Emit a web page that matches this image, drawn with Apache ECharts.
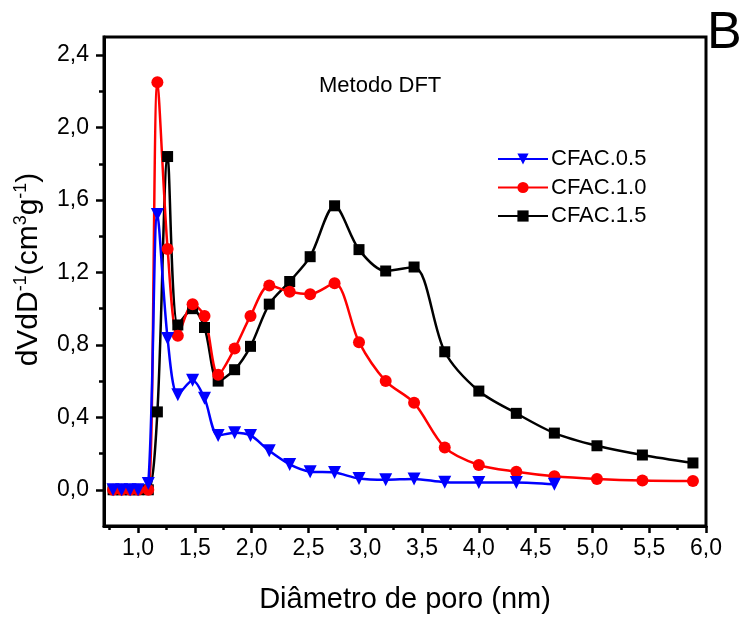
<!DOCTYPE html>
<html>
<head>
<meta charset="utf-8">
<script src="https://cdn.jsdelivr.net/npm/echarts@6/dist/echarts.min.js"></script>
<style>
  html, body { margin: 0; padding: 0; background: #fff; }
  #chart { width: 746px; height: 619px; }
</style>
</head>
<body>
<div id="chart"></div>
<script>
// pore diameter (nm)
const diameters = [0.78, 0.855, 0.93, 1.0, 1.09, 1.17, 1.26, 1.35, 1.48, 1.585, 1.705, 1.85, 1.99,
  2.155, 2.335, 2.515, 2.73, 2.945, 3.18, 3.43, 3.70, 4.00, 4.33, 4.665, 5.04, 5.44, 5.885];

const cfac05 = [0, 0, 0, 0, 0.035, 1.52, 0.835, 0.525, 0.605, 0.505, 0.30, 0.315, 0.30,
  0.215, 0.14, 0.10, 0.095, 0.062, 0.055, 0.06, 0.042, 0.04, 0.04, 0.03];
const cfac10 = [0, 0, 0, 0, 0, 2.25, 1.33, 0.85, 1.025, 0.96, 0.635, 0.78, 0.96,
  1.128, 1.093, 1.08, 1.14, 0.815, 0.60, 0.48, 0.234, 0.137, 0.10, 0.075, 0.06, 0.051, 0.048];
const cfac15 = [0, 0, 0, 0, 0, 0.43, 1.84, 0.91, 1.0, 0.896, 0.60, 0.663, 0.792,
  1.025, 1.15, 1.287, 1.568, 1.326, 1.208, 1.23, 0.762, 0.545, 0.422, 0.313, 0.243, 0.192, 0.148];

const xMajor = [1.0, 1.5, 2.0, 2.5, 3.0, 3.5, 4.0, 4.5, 5.0, 5.5, 6.0];
const xMinor = [0.75, 1.25, 1.75, 2.25, 2.75, 3.25, 3.75, 4.25, 4.75, 5.25, 5.75];
const yMajor = [0, 0.4, 0.8, 1.2, 1.6, 2.0, 2.4];
const yMinor = [0.2, 0.6, 1.0, 1.4, 1.8, 2.2];

const pairs = (ys) => ys.map((v, i) => [diameters[i], v]);
const comma = (v) => v.toFixed(1).replace('.', ',');

const font = 'Liberation Sans, Arial, sans-serif';

const lineSeries = (name, data, color, symbol, size, rotate) => ({
  name: name,
  type: 'line',
  data: pairs(data),
  smooth: 0.3,
  symbol: symbol,
  symbolSize: size,
  symbolRotate: rotate || 0,
  showAllSymbol: true,
  lineStyle: { color: color, width: 2.5 },
  itemStyle: { color: color, borderWidth: 0 },
  emphasis: { disabled: true },
  z: 2
});

const chart = echarts.init(document.getElementById('chart'));

chart.setOption({
  animation: false,
  backgroundColor: '#fff',
  grid: {
    left: 104, right: 40, top: 37, bottom: 90,
    show: true, borderColor: '#000', borderWidth: 3, backgroundColor: 'transparent'
  },
  legend: {
    orient: 'vertical',
    left: 492, top: 143,
    itemWidth: 50, itemHeight: 14, itemGap: 6.5,
    data: ['CFAC.0.5', 'CFAC.1.0', 'CFAC.1.5'],
    textStyle: { fontFamily: font, fontSize: 22, color: '#000', lineHeight: 20, padding: [0, 0, 0, -2] }
  },
  xAxis: [
    {
      type: 'value', min: 0.7, max: 6.0,
      name: 'Diâmetro de poro (nm)', nameLocation: 'middle', nameGap: 59,
      nameTextStyle: { fontFamily: font, fontSize: 29, color: '#000' },
      axisLine: { onZero: false, lineStyle: { color: '#000', width: 3 } },
      axisTick: { customValues: xMajor, length: 7, lineStyle: { color: '#000', width: 2.5 } },
      axisLabel: { customValues: xMajor, formatter: comma, margin: 11,
        fontFamily: font, fontSize: 23, color: '#000' },
      splitLine: { show: false }
    },
    {
      type: 'value', min: 0.7, max: 6.0, position: 'bottom',
      axisLine: { show: false, onZero: false },
      axisTick: { customValues: xMinor, length: 4, lineStyle: { color: '#000', width: 2.5 } },
      axisLabel: { show: false },
      splitLine: { show: false }
    }
  ],
  yAxis: [
    {
      type: 'value', min: -0.2, max: 2.5,
      name: 'dVdD{s|-1}(cm{s|3}g{s|-1})', nameLocation: 'middle', nameGap: 47,
      nameTextStyle: {
        fontFamily: font, fontSize: 30, color: '#000', lineHeight: 34, padding: [0, 0, 0, 24],
        rich: { s: { fontFamily: font, fontSize: 18, color: '#000', verticalAlign: 'top', lineHeight: 18 } }
      },
      axisLine: { onZero: false, lineStyle: { color: '#000', width: 3 } },
      axisTick: { customValues: yMajor, length: 8, lineStyle: { color: '#000', width: 2.5 } },
      axisLabel: { customValues: yMajor, formatter: comma, margin: 15,
        fontFamily: font, fontSize: 23, color: '#000' },
      splitLine: { show: false }
    },
    {
      type: 'value', min: -0.2, max: 2.5, position: 'left',
      axisLine: { show: false, onZero: false },
      axisTick: { customValues: yMinor, length: 5, lineStyle: { color: '#000', width: 2.5 } },
      axisLabel: { show: false },
      splitLine: { show: false }
    }
  ],
  graphic: [
    { type: 'text', left: 319, top: 75,
      style: { text: 'Metodo DFT', font: '22px ' + font, fill: '#000' } },
    { type: 'text', left: 707, top: 8,
      style: { text: 'B', font: '52px ' + font, fill: '#000' } }
  ],
  series: [
    lineSeries('CFAC.1.5', cfac15, '#000000', 'rect', 11),
    lineSeries('CFAC.1.0', cfac10, '#ff0000', 'circle', 12),
    lineSeries('CFAC.0.5', cfac05, '#0000ff', 'triangle', 13, 180)
  ]
});
</script>
</body>
</html>
